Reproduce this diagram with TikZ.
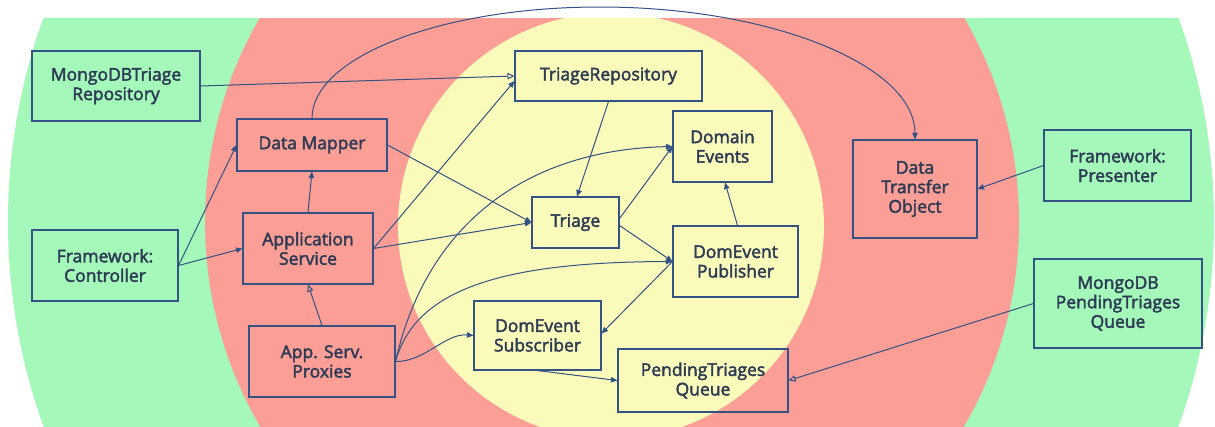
\documentclass[tikz,border=0pt]{standalone}
\usepackage{fontspec}
\setmainfont{Open Sans}[FakeBold=2.5]
\usetikzlibrary{arrows.meta}

\definecolor{ringgreen}{RGB}{164,249,186}
\definecolor{ringred}{RGB}{250,158,150}
\definecolor{ringyellow}{RGB}{250,250,186}
\definecolor{linec}{RGB}{52,82,132}
\definecolor{textc}{RGB}{45,59,85}

\tikzset{
  box/.style={draw=linec, line width=1.1pt, inner sep=0pt, align=center,
    text=textc, font=\fontsize{17.5}{19.5}\selectfont},
  dep/.style={draw=linec, line width=1pt, -{Triangle[length=6.5pt,width=5.5pt]}},
  impl/.style={draw=linec, line width=1pt, -{Triangle[open,length=7pt,width=6.5pt]}},
}

\begin{document}
\begin{tikzpicture}[x=1pt,y=-1pt]
  \useasboundingbox (0,0) rectangle (1215,426);

  % concentric layers
  \begin{scope}
    \clip (0,18) rectangle (1215,426);
    \fill[ringgreen]  (611,222) circle[radius=603pt];
    \fill[ringred]    (612,222) circle[radius=407pt];
    \fill[ringyellow] (611,226) circle[radius=213pt];
  \end{scope}

  % outer layer
  \node[box, minimum width=168pt, minimum height=70pt] (mongoRepo) at (116,86) {MongoDBTriage\\Repository};
  \node[box, minimum width=146pt, minimum height=71pt] (controller) at (105,265.5) {Framework:\\Controller};
  \node[box, minimum width=147pt, minimum height=71pt] (presenter) at (1117.5,165.5) {Framework:\\Presenter};
  \node[box, minimum width=168pt, minimum height=89pt] (mongoQueue) at (1118,303.5) {MongoDB\\PendingTriages\\Queue};

  % application layer
  \node[box, minimum width=150pt, minimum height=52pt] (mapper) at (312,145) {Data Mapper};
  \node[box, minimum width=130pt, minimum height=71pt] (appsvc) at (308,248.5) {Application\\Service};
  \node[box, minimum width=146pt, minimum height=71pt] (proxies) at (322,361.5) {App. Serv.\\Proxies};
  \node[box, minimum width=124pt, minimum height=98pt] (dto) at (915,189) {Data\\Transfer\\Object};

  % domain layer
  \node[box, minimum width=187pt, minimum height=50pt] (triageRepo) at (608.5,76) {TriageRepository};
  \node[box, minimum width=99pt, minimum height=71pt] (events) at (722.5,146.5) {Domain\\Events};
  \node[box, minimum width=87pt, minimum height=51pt] (triage) at (575.5,222.5) {Triage};
  \node[box, minimum width=125pt, minimum height=71pt] (publisher) at (735.5,261.5) {DomEvent\\Publisher};
  \node[box, minimum width=127pt, minimum height=69pt] (subscriber) at (537.5,335.5) {DomEvent\\Subscriber};
  \node[box, minimum width=170pt, minimum height=63pt] (queue) at (703,380.5) {PendingTriages\\Queue};

  % implementations
  \draw[impl] (mongoRepo.east) -- (triageRepo.west);
  \draw[impl] (proxies.north) -- (appsvc.south);
  \draw[impl] (mongoQueue.west) -- (queue.east);

  % dependencies
  \draw[dep] (controller.east) -- (mapper.west);
  \draw[dep] (controller.east) -- (appsvc.west);
  \draw[dep] (appsvc.north) -- (mapper.south);
  \draw[dep] (appsvc.east) -- ([yshift=-5pt]triageRepo.west);
  \draw[dep] (appsvc.east) -- (triage.west);
  \draw[dep] (mapper.east) -- (triage.west);
  \draw[dep] (triageRepo.south) -- ([xshift=1.5pt]triage.north);
  \draw[dep] ([yshift=4pt]triage.east) -- (events.west);
  \draw[dep] ([yshift=-3pt]triage.east) -- (publisher.west);
  \draw[dep] ([xshift=2pt]publisher.north) -- ([xshift=2.5pt]events.south);
  \draw[dep] (publisher.west) -- ([yshift=2pt]subscriber.east);
  \draw[dep] (subscriber.south) -- (queue.west);
  \draw[dep] (presenter.west) -- (dto.east);

  \draw[dep] (proxies.east) .. controls (425,230) and (520,150) .. (events.west);
  \draw[dep] (proxies.east) .. controls (415,290) and (500,262) .. (publisher.west);
  \draw[dep] (proxies.east) .. controls (425,362) and (445,333) .. (subscriber.west);

  \draw[dep] (mapper.north) .. controls (312,57) and (441,7) .. (600,7)
                            .. controls (773,7) and (915,66) .. (dto.north);
\end{tikzpicture}
\end{document}
